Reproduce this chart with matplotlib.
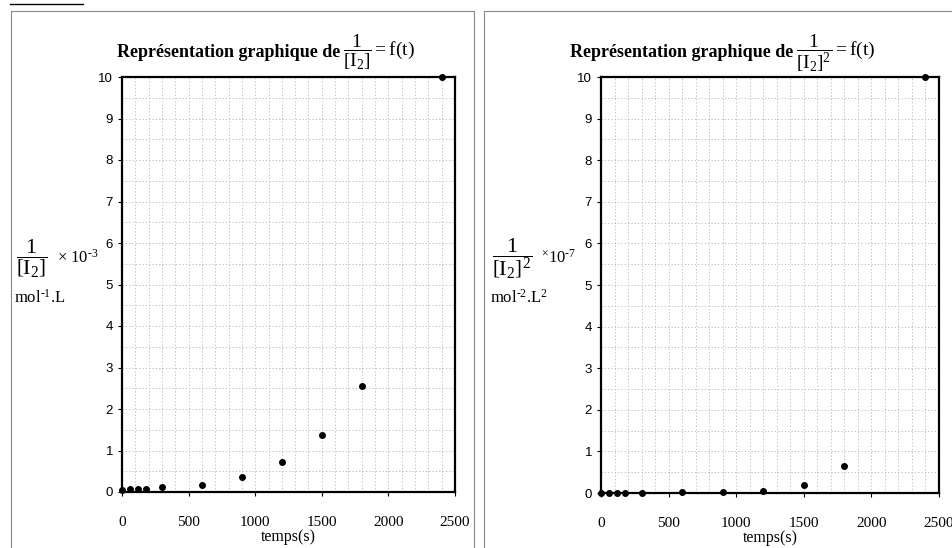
import matplotlib.pyplot as plt
from matplotlib.patches import Rectangle
from matplotlib.ticker import MultipleLocator

# data
temps = [0, 60, 120, 180, 300, 600, 900, 1200, 1500, 1800, 2400]
inv_i2 = [0.04, 0.07, 0.07, 0.07, 0.11, 0.18, 0.36, 0.73, 1.37, 2.55, 10.0]
inv_i2_sq = [0.0, 0.005, 0.005, 0.005, 0.01, 0.015, 0.015, 0.045, 0.19, 0.64, 10.0]
x_ticks = [0, 500, 1000, 1500, 2000, 2500]
y_ticks = list(range(0, 11))

plt.rcParams['mathtext.fontset'] = 'custom'
plt.rcParams['mathtext.rm'] = 'Liberation Serif'
plt.rcParams['mathtext.it'] = 'Liberation Serif:italic'
plt.rcParams['mathtext.bf'] = 'Liberation Serif:bold'

W, H = 952, 548
fig = plt.figure(figsize=(W / 100, H / 100), dpi=100)


def fx(px):
    return px / W


def fy(py):
    return 1 - py / H


# panel frames
for x0, x1 in [(11, 474), (484, 960)]:
    fig.patches.append(Rectangle((fx(x0), fy(560)), fx(x1 - x0), (560 - 11) / H,
                                 transform=fig.transFigure, fill=False,
                                 edgecolor='#888888', linewidth=0.8))
# cut-off heading underline
fig.add_artist(plt.Line2D([fx(10), fx(83)], [fy(4), fy(4)], color='black', lw=1.0))


def make_axes(left, right, top, bottom, y):
    ax = fig.add_axes([fx(left), fy(bottom), fx(right - left), (bottom - top) / H])
    ax.set_xlim(0, 2500)
    ax.set_ylim(0, 10)
    ax.xaxis.set_minor_locator(MultipleLocator(100))
    ax.yaxis.set_minor_locator(MultipleLocator(0.5))
    ax.set_xticks(x_ticks)
    ax.set_yticks(y_ticks)
    ax.grid(which='both', color='#b5b5b5', linestyle=(0, (1.5, 2.5)), linewidth=0.6)
    ax.tick_params(which='minor', length=0)
    ax.tick_params(axis='y', labelsize=9.5, length=3, direction='out')
    ax.tick_params(axis='x', labelsize=11, length=3, direction='out', pad=14)
    for lab in ax.get_xticklabels():
        lab.set_fontfamily('Liberation Serif')
    for lab in ax.get_yticklabels():
        lab.set_fontfamily('Liberation Sans')
    for sp in ax.spines.values():
        sp.set_linewidth(1.6)
    ax.scatter(temps, y, s=16, color='black', zorder=3, clip_on=False)
    ax.set_xlabel('temps(s)', fontfamily='Liberation Serif', fontsize=11.5, labelpad=0)
    ax.set_axisbelow(True)
    return ax


ax1 = make_axes(122, 455, 77, 492, inv_i2)
ax2 = make_axes(601, 939, 77, 493, inv_i2_sq)

renderer = fig.canvas.get_renderer()


def title(x0, baseline, frac):
    t = fig.text(fx(x0), fy(baseline), 'Représentation graphique de', ha='left', va='baseline',
                 fontfamily='Liberation Serif', fontweight='bold', fontsize=13)
    x1 = t.get_window_extent(renderer).x1 / W
    fig.text(x1 + 3 / W, fy(baseline), '$' + frac + r' = \mathrm{f(t)}$', ha='left', va='baseline',
             fontsize=14)


title(117, 57, r'\dfrac{1}{\left[\mathrm{I}_2\right]}')
title(570, 57, r'\dfrac{1}{\left[\mathrm{I}_2\right]^2}')

# y labels
fig.text(fx(16), fy(259), r'$\dfrac{1}{\left[\mathrm{I}_2\right]}$', ha='left', va='center', fontsize=16)
fig.text(fx(57), fy(258), r'$\times$ 10$^{\text{-3}}$', ha='left', va='center',
         fontfamily='Liberation Serif', fontsize=12)
fig.text(fx(14), fy(298), r'mol$^{\text{-1}}$.L', ha='left', va='center',
         fontfamily='Liberation Serif', fontsize=12)

fig.text(fx(492), fy(259), r'$\dfrac{1}{\left[\mathrm{I}_2\right]^2}$', ha='left', va='center', fontsize=16)
fig.text(fx(541), fy(258), r'$^{\times}$10$^{\text{-7}}$', ha='left', va='center',
         fontfamily='Liberation Serif', fontsize=12)
fig.text(fx(490), fy(298), r'mol$^{\text{-2}}$.L$^{2}$', ha='left', va='center',
         fontfamily='Liberation Serif', fontsize=12)

plt.savefig('out.png', dpi=100)
plt.close()
